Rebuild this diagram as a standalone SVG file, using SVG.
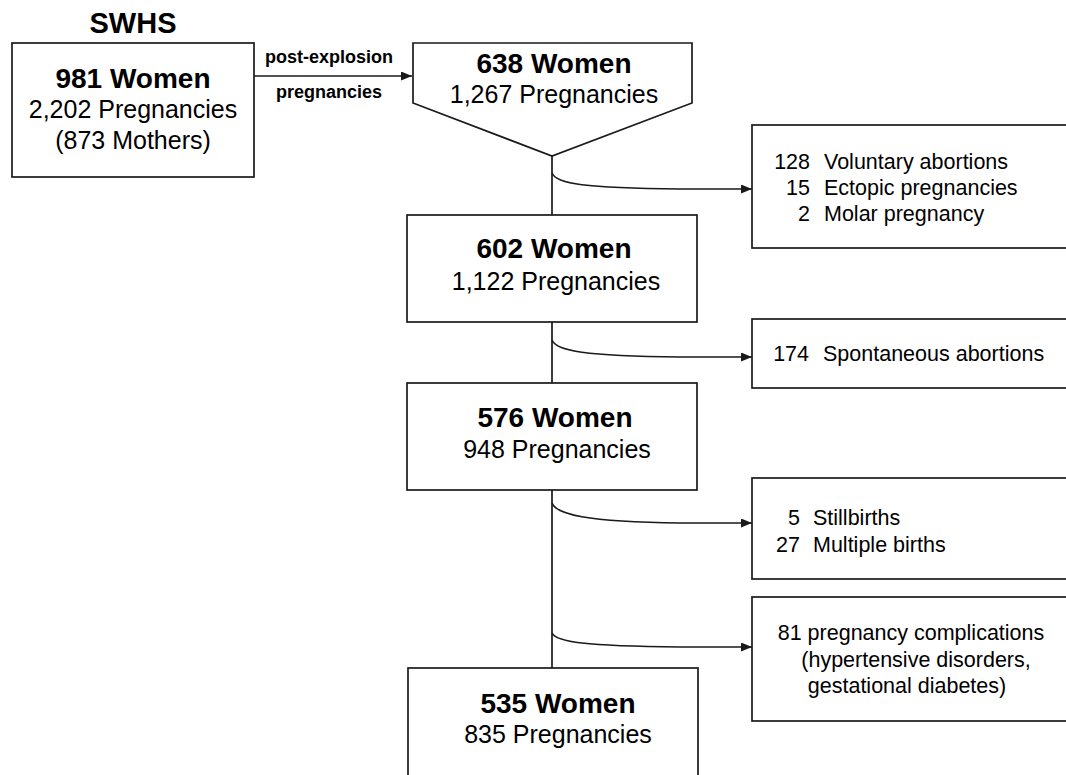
<svg xmlns="http://www.w3.org/2000/svg" width="1066" height="775" viewBox="0 0 1066 775">
<style>
.box{fill:#fff;stroke:#1a1a1a;stroke-width:1.7}
.ln{fill:none;stroke:#1a1a1a;stroke-width:1.7}
.b{font-family:"Liberation Sans",Arial,sans-serif;font-weight:bold;fill:#000}
.r{font-family:"Liberation Sans",Arial,sans-serif;fill:#000}
.big{font-size:28px}
.mid{font-size:25px}
.sm{font-size:21.5px}
.lab{font-size:18px}
</style>
<defs>
<marker id="ah" markerUnits="userSpaceOnUse" markerWidth="11" markerHeight="9" refX="11" refY="4.5" orient="auto">
<path d="M0,0 L11,4.5 L0,9 z" fill="#1a1a1a"/>
</marker>
</defs>
<rect width="1066" height="775" fill="#fff"/>
<text class="b" x="133" y="33" font-size="29" text-anchor="middle">SWHS</text>
<g id="connectors">
<path class="ln" d="M254,76 L412,76" marker-end="url(#ah)"/>
<path class="ln" d="M552,156 L552,215 M552,322 L552,383 M552,490 L552,668"/>
<path class="ln" d="M552,173 C556,184 585,188 680,189 L752,189" marker-end="url(#ah)"/>
<path class="ln" d="M552,340 C556,351 585,356 680,357 L752,357" marker-end="url(#ah)"/>
<path class="ln" d="M552,503 C556,514 585,522 680,523 L752,523" marker-end="url(#ah)"/>
<path class="ln" d="M552,633 C556,642 585,646 680,647 L752,647" marker-end="url(#ah)"/>
<text class="b lab" x="329" y="63" text-anchor="middle">post-explosion</text>
<text class="b lab" x="329" y="98" text-anchor="middle">pregnancies</text>
</g>
<g id="n981">
<rect class="box" x="12" y="43" width="242" height="134"/>
<text class="b big" x="133" y="88" text-anchor="middle">981 Women</text>
<text class="r mid" x="133" y="118" text-anchor="middle">2,202 Pregnancies</text>
<text class="r mid" x="133" y="149" text-anchor="middle">(873 Mothers)</text>
</g>
<g id="n638">
<path class="box" d="M413,43 L692,43 L692,103 L552,156 L413,103 Z"/>
<text class="b big" x="554" y="73" text-anchor="middle">638 Women</text>
<text class="r mid" x="554" y="103" text-anchor="middle">1,267 Pregnancies</text>
</g>
<g id="n602">
<rect class="box" x="407" y="215" width="290" height="107"/>
<text class="b big" x="554" y="258" text-anchor="middle">602 Women</text>
<text class="r mid" x="556" y="290" text-anchor="middle">1,122 Pregnancies</text>
</g>
<g id="n576">
<rect class="box" x="407" y="383" width="290" height="107"/>
<text class="b big" x="555" y="427" text-anchor="middle">576 Women</text>
<text class="r mid" x="557" y="458" text-anchor="middle">948 Pregnancies</text>
</g>
<g id="n535">
<rect class="box" x="408" y="668" width="290" height="120"/>
<text class="b big" x="558" y="713" text-anchor="middle">535 Women</text>
<text class="r mid" x="558" y="743" text-anchor="middle">835 Pregnancies</text>
</g>
<g id="ex1">
<rect class="box" x="752" y="125" width="330" height="123"/>
<text class="r sm" x="810" y="169" text-anchor="end">128</text>
<text class="r sm" x="824" y="169">Voluntary abortions</text>
<text class="r sm" x="810" y="195" text-anchor="end">15</text>
<text class="r sm" x="824" y="195">Ectopic pregnancies</text>
<text class="r sm" x="810" y="221" text-anchor="end">2</text>
<text class="r sm" x="824" y="221">Molar pregnancy</text>
</g>
<g id="ex2">
<rect class="box" x="752" y="319" width="330" height="69"/>
<text class="r sm" x="809" y="361" text-anchor="end">174</text>
<text class="r sm" x="823" y="361">Spontaneous abortions</text>
</g>
<g id="ex3">
<rect class="box" x="752" y="478" width="330" height="101"/>
<text class="r sm" x="800" y="525" text-anchor="end">5</text>
<text class="r sm" x="813" y="525">Stillbirths</text>
<text class="r sm" x="800" y="552" text-anchor="end">27</text>
<text class="r sm" x="813" y="552">Multiple births</text>
</g>
<g id="ex4">
<rect class="box" x="752" y="597" width="330" height="124"/>
<text class="r sm" x="911" y="640" text-anchor="middle">81 pregnancy complications</text>
<text class="r sm" x="916" y="667" text-anchor="middle">(hypertensive disorders,</text>
<text class="r sm" x="907" y="693" text-anchor="middle">gestational diabetes)</text>
</g>
</svg>
